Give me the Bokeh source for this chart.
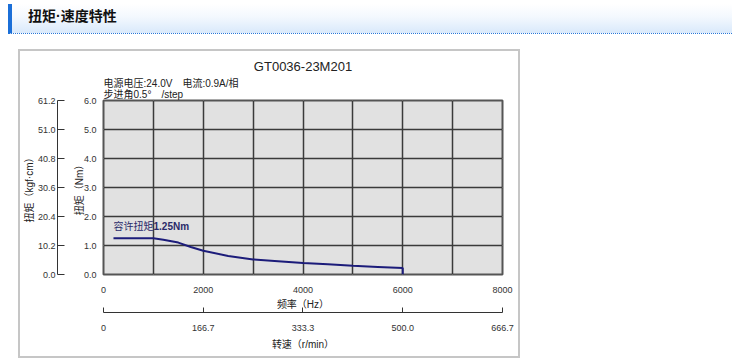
from bokeh.plotting import figure
from bokeh.models import (Range1d, LinearAxis, FixedTicker, Label, Title, Div, Spacer,
                          NumeralTickFormatter, Grid)
from bokeh.layouts import column, row
from bokeh.embed import file_html
from bokeh.resources import INLINE

# ---- data ----
freq_hz = [200, 1000, 1200, 1500, 1750, 2000, 2500, 3000, 3500, 4000, 4500, 5000, 5500, 6000, 6000]
torque_nm = [1.25, 1.25, 1.20, 1.10, 0.95, 0.82, 0.64, 0.52, 0.46, 0.40, 0.35, 0.30, 0.26, 0.22, 0.0]
hz_ticks = [0, 2000, 4000, 6000, 8000]
hz_grid = [0, 1000, 2000, 3000, 4000, 5000, 6000, 7000, 8000]
nm_ticks = [0, 1, 2, 3, 4, 5, 6]
kgf_ticks = [0.0, 10.2, 20.4, 30.6, 40.8, 51.0, 61.2]
rpm_ticks = [0, 166.7, 333.3, 500.0, 666.7]

header_text = "扭矩·速度特性"
chart_title = "GT0036-23M201"
info_lines = ["电源电压:24.0V　电流:0.9A/相", "步进角0.5°　/step"]
allow_text = "容许扭矩"
allow_value = "1.25Nm"

FONT = "'Liberation Sans', 'Noto Sans CJK SC'"
BOX = "#c6c6c6"

header = Div(width=732, height=49, margin=0, text=(
    "<div style=\"margin-left:8px;margin-top:4px;height:30px;width:724px;box-sizing:border-box;"
    "background:linear-gradient(to bottom,#ffffff 0%,#f3f8fe 45%,#d9e9fb 100%);"
    "border-left:4px solid #1b6fd8;border-bottom:1px dotted #2a78d8;"
    "font-family:'Liberation Sans','Noto Sans CJK SC';font-weight:bold;font-size:14px;line-height:24px;"
    "padding-left:16px;color:#111111;\">" + header_text + "</div>"))

p = figure(width=498, height=305, output_backend="svg", toolbar_location=None,
           x_range=Range1d(0, 8000), y_range=Range1d(0, 6),
           x_axis_location=None, y_axis_location=None,
           min_border_left=83, min_border_right=16, min_border_top=49, min_border_bottom=82)
p.extra_x_ranges = {"rpm": Range1d(0, 666.7)}
p.extra_y_ranges = {"kgf": Range1d(0, 61.2)}
p.background_fill_color = "#e1e1e1"
p.border_fill_color = "white"
p.outline_line_color = "#555555"
p.outline_line_width = 2

p.add_layout(Grid(dimension=0, ticker=FixedTicker(ticks=hz_grid), grid_line_color="#3a3a3a", grid_line_width=1.5))
p.add_layout(Grid(dimension=1, ticker=FixedTicker(ticks=nm_ticks), grid_line_color="#3a3a3a", grid_line_width=1.5))

def style(ax):
    ax.major_label_text_font = FONT
    ax.major_label_text_font_size = "9px"
    ax.major_label_text_color = "#333333"
    ax.axis_label_text_font = FONT
    ax.axis_label_text_font_size = "10px"
    ax.axis_label_text_font_style = "normal"
    ax.axis_label_text_color = "#222222"
    ax.minor_tick_line_color = None
    ax.minor_tick_out = 0
    ax.minor_tick_in = 0

ax_hz = LinearAxis(ticker=FixedTicker(ticks=hz_ticks), axis_line_color=None,
                   major_tick_line_color=None, major_tick_out=0, major_tick_in=0,
                   major_label_standoff=12,
                   axis_label="频率（Hz）", axis_label_standoff=3)
style(ax_hz)
p.add_layout(ax_hz, "below")

ax_rpm = LinearAxis(x_range_name="rpm", ticker=FixedTicker(ticks=rpm_ticks),
                    formatter=NumeralTickFormatter(format="0.0"),
                    major_label_overrides={0: "0"},
                    axis_line_color="#333333", major_tick_line_color="#333333",
                    major_tick_in=5, major_tick_out=0, major_label_standoff=12,
                    axis_label="转速（r/min）", axis_label_standoff=5)
style(ax_rpm)
p.add_layout(ax_rpm, "below")

ax_nm = LinearAxis(ticker=FixedTicker(ticks=nm_ticks), formatter=NumeralTickFormatter(format="0.0"),
                   axis_line_color=None, major_tick_line_color=None, major_tick_out=0, major_tick_in=0,
                   major_label_standoff=7,
                   axis_label="\n扭矩（Nm）", axis_label_standoff=-4)
style(ax_nm)
p.add_layout(ax_nm, "left")

ax_kgf = LinearAxis(y_range_name="kgf", ticker=FixedTicker(ticks=kgf_ticks),
                    formatter=NumeralTickFormatter(format="0.0"),
                    axis_line_color="#333333", major_tick_line_color="#333333",
                    major_tick_in=7, major_tick_out=0, major_label_standoff=2,
                    axis_label="扭矩（kgf·cm）", axis_label_standoff=0)
style(ax_kgf)
p.add_layout(ax_kgf, "left")

# titles above the frame (first added = nearest to frame)
p.add_layout(Title(text="\n".join(info_lines), align="left", text_font=FONT, text_font_size="10px",
                   text_font_style="normal", text_color="#222222", text_line_height=1.0,
                   standoff=1), "above")
p.add_layout(Title(text=chart_title, align="center", text_font=FONT, text_font_size="13px",
                   text_font_style="normal", text_color="#222222", standoff=4), "above")

# torque curve
p.line(freq_hz, torque_nm, line_color="#1c1c7a", line_width=2)

# allowable torque annotation
p.add_layout(Label(x=freq_hz[0], y=torque_nm[0], y_offset=12, text=allow_text,
                   text_font=FONT, text_font_size="10px", text_color="#2a2a6a",
                   text_baseline="middle"))
p.add_layout(Label(x=freq_hz[0], y=torque_nm[0], x_offset=40, y_offset=12, text=allow_value,
                   text_font=FONT, text_font_size="10px", text_font_style="bold",
                   text_color="#2a2a6a", text_baseline="middle"))

def hline():
    return Div(width=502, height=2, margin=0, styles={"background-color": BOX})

def vline():
    return Div(width=2, height=305, margin=0, styles={"background-color": BOX})

box = column(hline(), row(vline(), p, vline()), hline())
layout = column(header, row(Spacer(width=18, height=309), box))
open("out.html", "w").write(file_html(layout, INLINE))
